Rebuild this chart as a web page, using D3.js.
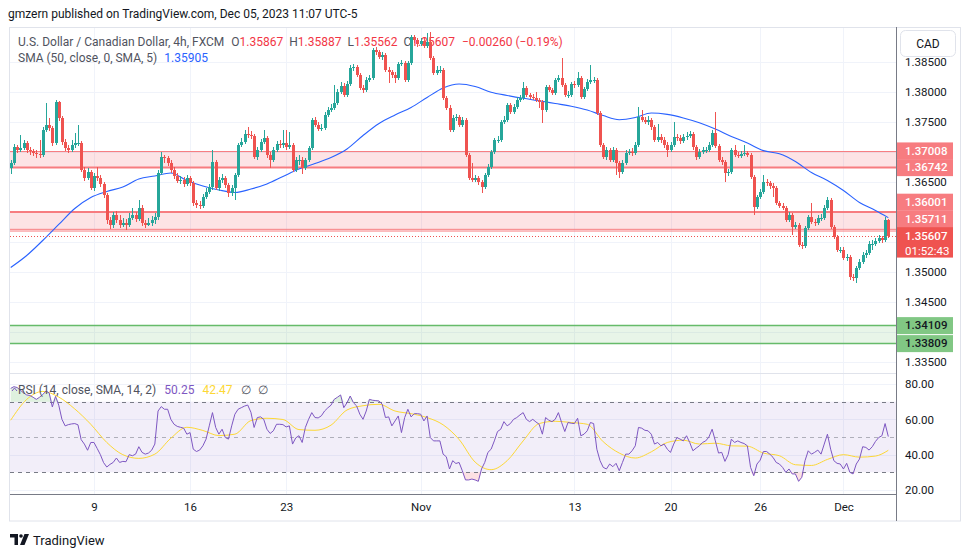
<!DOCTYPE html>
<html>
<head>
<meta charset="utf-8">
<script src="https://cdn.jsdelivr.net/npm/d3@7/dist/d3.min.js"></script>
<style>
html,body{margin:0;padding:0;background:#ffffff;}
svg{display:block;font-family:Roboto,"Noto Sans",Arial,sans-serif;}
</style>
</head>
<body>
<svg id="chart" width="970" height="557"></svg>
<script>
// ---------------- DATA (USDCAD, 4h, FXCM) ----------------
const firstOpen = 1.3673;
const closes = [
1.3682,1.3708,1.3703,1.3707,1.3715,1.3703,1.3702,1.3698,1.3697,1.3695,
1.3737,1.3745,1.3740,1.3715,1.3783,1.3757,1.3717,1.3707,1.3703,1.3712,
1.3715,1.3715,1.3670,1.3657,1.3667,1.3640,1.3660,1.3657,1.3647,1.3628,
1.3587,1.3578,1.3595,1.3587,1.3578,1.3582,1.3578,1.3590,1.3595,1.3588,
1.3607,1.3582,1.3578,1.3582,1.3587,1.3592,1.3665,1.3692,1.3690,1.3682,
1.3670,1.3660,1.3652,1.3653,1.3647,1.3657,1.3648,1.3615,1.3612,1.3610,
1.3625,1.3633,1.3642,1.3683,1.3640,1.3653,1.3657,1.3645,1.3632,1.3640,
1.3662,1.3712,1.3717,1.3730,1.3728,1.3727,1.3692,1.3703,1.3717,1.3723,
1.3695,1.3687,1.3703,1.3713,1.3712,1.3715,1.3708,1.3712,1.3670,1.3687,
1.3687,1.3673,1.3687,1.3707,1.3753,1.3745,1.3738,1.3740,1.3762,1.3770,
1.3773,1.3782,1.3800,1.3810,1.3795,1.3813,1.3840,1.3842,1.3828,1.3807,
1.3803,1.3820,1.3823,1.3870,1.3867,1.3858,1.3862,1.3837,1.3833,1.3828,
1.3823,1.3847,1.3848,1.3820,1.3848,1.3892,1.3887,1.3880,1.3885,1.3877,
1.3883,1.3857,1.3832,1.3837,1.3837,1.3790,1.3773,1.3737,1.3757,1.3758,
1.3745,1.3753,1.3695,1.3657,1.3653,1.3657,1.3650,1.3642,1.3662,1.3675,
1.3700,1.3720,1.3720,1.3750,1.3753,1.3778,1.3767,1.3775,1.3787,1.3790,
1.3807,1.3795,1.3792,1.3790,1.3787,1.3783,1.3770,1.3808,1.3803,1.3798,
1.3820,1.3823,1.3812,1.3795,1.3795,1.3813,1.3812,1.3823,1.3792,1.3805,
1.3817,1.3820,1.3820,1.3765,1.3712,1.3692,1.3703,1.3687,1.3703,1.3682,
1.3667,1.3682,1.3698,1.3700,1.3698,1.3712,1.3758,1.3753,1.3750,1.3753,
1.3742,1.3720,1.3725,1.3720,1.3712,1.3703,1.3712,1.3725,1.3723,1.3718,
1.3725,1.3727,1.3730,1.3708,1.3692,1.3700,1.3703,1.3703,1.3712,1.3732,
1.3710,1.3687,1.3683,1.3665,1.3667,1.3703,1.3695,1.3693,1.3697,1.3698,
1.3695,1.3658,1.3608,1.3625,1.3633,1.3650,1.3648,1.3643,1.3640,1.3615,
1.3610,1.3607,1.3587,1.3595,1.3575,1.3578,1.3545,1.3543,1.3573,1.3592,
1.3583,1.3582,1.3590,1.3590,1.3607,1.3620,1.3575,1.3558,1.3537,1.3537,
1.3523,1.3525,1.3492,1.3490,1.3507,1.3517,1.3528,1.3532,1.3547,1.3547,
1.3552,1.3557,1.3553,1.35867,1.35607];
const highs = [
1.3687,1.3713,1.3712,1.3728,1.3720,1.3718,1.3708,1.3705,1.3703,1.3720,
1.3742,1.3782,1.3757,1.3743,1.3787,1.3785,1.3760,1.3722,1.3712,1.3720,
1.3732,1.3745,1.3718,1.3675,1.3673,1.3670,1.3665,1.3675,1.3662,1.3650,
1.3632,1.3592,1.3600,1.3602,1.3595,1.3590,1.3588,1.3598,1.3607,1.3600,
1.3620,1.3612,1.3587,1.3590,1.3593,1.3598,1.3670,1.3700,1.3695,1.3693,
1.3687,1.3675,1.3665,1.3660,1.3658,1.3662,1.3660,1.3652,1.3620,1.3618,
1.3630,1.3640,1.3647,1.3703,1.3687,1.3658,1.3663,1.3660,1.3648,1.3645,
1.3665,1.3715,1.3723,1.3737,1.3742,1.3735,1.3730,1.3708,1.3722,1.3737,
1.3727,1.3700,1.3708,1.3718,1.3720,1.3737,1.3737,1.3733,1.3715,1.3692,
1.3695,1.3692,1.3690,1.3710,1.3757,1.3758,1.3750,1.3747,1.3767,1.3775,
1.3780,1.3812,1.3805,1.3817,1.3815,1.3818,1.3845,1.3847,1.3845,1.3832,
1.3812,1.3825,1.3828,1.3873,1.3875,1.3870,1.3867,1.3865,1.3842,1.3837,
1.3833,1.3850,1.3853,1.3852,1.3852,1.3895,1.3895,1.3890,1.3890,1.3890,
1.3898,1.3900,1.3860,1.3843,1.3843,1.3840,1.3793,1.3778,1.3762,1.3763,
1.3762,1.3758,1.3757,1.3698,1.3682,1.3662,1.3660,1.3653,1.3665,1.3680,
1.3703,1.3723,1.3727,1.3753,1.3760,1.3782,1.3782,1.3780,1.3792,1.3795,
1.3817,1.3810,1.3798,1.3797,1.3800,1.3790,1.3787,1.3812,1.3812,1.3807,
1.3823,1.3828,1.3857,1.3815,1.3802,1.3817,1.3818,1.3833,1.3827,1.3808,
1.3822,1.3845,1.3825,1.3823,1.3768,1.3715,1.3708,1.3707,1.3708,1.3707,
1.3685,1.3687,1.3703,1.3705,1.3707,1.3717,1.3775,1.3770,1.3758,1.3760,
1.3757,1.3745,1.3747,1.3730,1.3725,1.3717,1.3717,1.3750,1.3730,1.3728,
1.3730,1.3733,1.3735,1.3733,1.3712,1.3705,1.3708,1.3708,1.3717,1.3737,
1.3767,1.3713,1.3692,1.3687,1.3672,1.3707,1.3712,1.3700,1.3702,1.3712,
1.3702,1.3698,1.3662,1.3628,1.3638,1.3662,1.3655,1.3652,1.3648,1.3643,
1.3618,1.3615,1.3610,1.3600,1.3598,1.3583,1.3582,1.3550,1.3577,1.3595,
1.3615,1.3588,1.3595,1.3597,1.3612,1.3625,1.3623,1.3578,1.3562,1.3542,
1.3542,1.3530,1.3528,1.3497,1.3510,1.3522,1.3533,1.3537,1.3552,1.3553,
1.3557,1.3562,1.3560,1.3592,1.35887];
const lows = [
1.3663,1.3678,1.3698,1.3700,1.3703,1.3698,1.3695,1.3693,1.3690,1.3690,
1.3692,1.3733,1.3735,1.3710,1.3712,1.3752,1.3712,1.3702,1.3698,1.3700,
1.3707,1.3710,1.3667,1.3652,1.3653,1.3637,1.3635,1.3652,1.3642,1.3623,
1.3580,1.3572,1.3573,1.3582,1.3573,1.3575,1.3570,1.3575,1.3587,1.3583,
1.3585,1.3577,1.3573,1.3577,1.3577,1.3580,1.3587,1.3662,1.3682,1.3677,
1.3665,1.3655,1.3648,1.3647,1.3642,1.3643,1.3643,1.3610,1.3607,1.3605,
1.3607,1.3622,1.3630,1.3637,1.3637,1.3635,1.3648,1.3640,1.3625,1.3627,
1.3620,1.3658,1.3708,1.3713,1.3723,1.3722,1.3688,1.3687,1.3700,1.3713,
1.3690,1.3673,1.3683,1.3700,1.3707,1.3707,1.3703,1.3705,1.3667,1.3667,
1.3678,1.3663,1.3670,1.3683,1.3703,1.3742,1.3735,1.3735,1.3737,1.3758,
1.3767,1.3770,1.3778,1.3797,1.3792,1.3792,1.3810,1.3835,1.3825,1.3803,
1.3798,1.3800,1.3817,1.3820,1.3862,1.3855,1.3853,1.3833,1.3815,1.3823,
1.3815,1.3820,1.3843,1.3817,1.3817,1.3845,1.3882,1.3875,1.3877,1.3873,
1.3873,1.3853,1.3828,1.3828,1.3832,1.3787,1.3770,1.3733,1.3733,1.3752,
1.3742,1.3742,1.3692,1.3653,1.3650,1.3650,1.3645,1.3632,1.3638,1.3658,
1.3672,1.3697,1.3715,1.3717,1.3747,1.3750,1.3763,1.3763,1.3772,1.3783,
1.3787,1.3792,1.3788,1.3787,1.3783,1.3773,1.3748,1.3767,1.3800,1.3795,
1.3795,1.3817,1.3808,1.3792,1.3790,1.3792,1.3807,1.3808,1.3788,1.3788,
1.3802,1.3813,1.3815,1.3762,1.3708,1.3688,1.3687,1.3683,1.3683,1.3662,
1.3657,1.3663,1.3678,1.3695,1.3693,1.3695,1.3708,1.3750,1.3747,1.3745,
1.3737,1.3717,1.3717,1.3715,1.3707,1.3692,1.3700,1.3708,1.3718,1.3713,
1.3715,1.3720,1.3723,1.3703,1.3687,1.3688,1.3697,1.3698,1.3700,1.3708,
1.3707,1.3683,1.3678,1.3650,1.3660,1.3663,1.3692,1.3690,1.3690,1.3693,
1.3692,1.3655,1.3595,1.3605,1.3622,1.3630,1.3643,1.3638,1.3625,1.3612,
1.3607,1.3603,1.3583,1.3583,1.3562,1.3572,1.3542,1.3538,1.3540,1.3570,
1.3580,1.3577,1.3578,1.3585,1.3587,1.3603,1.3572,1.3555,1.3533,1.3532,
1.3520,1.3518,1.3487,1.3485,1.3482,1.3503,1.3513,1.3523,1.3528,1.3537,
1.3543,1.3548,1.3548,1.3550,1.35562];
// SMA(50) read every 5th bar (last entry = last bar)
const smaEvery5 = [
1.35075,1.35275,1.35525,1.35792,1.36058,1.36242,1.36342,1.36417,1.3655,1.366,
1.3665,1.36525,1.36433,1.36367,1.36325,1.36383,1.36467,1.36592,1.36717,1.36808,
1.36908,1.3705,1.37275,1.37475,1.37617,1.37742,1.37908,1.38067,1.38133,1.38092,
1.37997,1.37943,1.37895,1.37853,1.37808,1.37763,1.377,1.37607,1.37538,1.37575,
1.3765,1.37627,1.37568,1.37488,1.37383,1.3726,1.3715,1.37023,1.3697,1.36842,
1.36658,1.36525,1.36358,1.36158,1.36025,1.35905];
// RSI(14), one value per bar
const rsi = [
77.5,78.5,78.0,76.5,75.0,73.8,73.5,72.5,71.3,72.5,
74.0,76.0,75.0,67.0,73.0,68.0,60.0,56.3,57.0,57.4,
57.6,56.9,48.5,46.0,42.5,46.9,46.9,43.5,40.0,35.5,
33.0,34.5,35.6,38.1,35.6,36.2,36.0,40.0,39.4,40.3,
44.5,41.3,40.3,40.9,42.5,46.0,64.7,67.2,65.7,65.7,
60.0,57.2,56.0,55.5,55.0,51.6,52.5,43.1,41.8,42.6,
45.0,48.8,56.3,63.8,55.4,51.6,54.4,49.7,48.8,56.3,
62.9,65.7,66.6,67.5,68.1,64.0,55.4,61.0,61.4,60.0,
54.4,52.0,53.5,57.2,57.2,57.0,55.7,56.3,46.0,49.5,
50.7,46.9,55.4,60.0,63.8,61.0,60.8,62.0,64.7,66.5,
68.0,71.3,72.5,73.8,66.6,69.4,73.2,69.4,67.6,62.9,
60.0,64.7,71.3,70.8,70.6,70.4,68.5,61.0,61.4,56.3,
59.1,61.9,52.5,61.0,65.7,61.4,63.2,63.2,62.9,59.1,
61.9,49.7,47.8,47.8,47.8,40.3,38.8,31.9,36.6,35.0,
35.6,30.9,25.7,25.7,26.2,25.7,24.9,31.9,35.6,41.3,
43.1,47.8,53.1,54.4,58.7,56.3,57.6,60.0,61.0,62.5,
63.8,60.0,58.7,60.0,58.5,57.2,51.6,61.0,59.5,58.7,
60.0,63.8,58.2,53.1,58.2,57.8,57.6,60.6,50.7,51.6,
53.5,58.2,57.6,43.1,36.6,32.8,31.9,34.7,33.2,35.1,
30.9,35.6,40.3,40.3,42.2,45.0,55.4,55.0,53.8,53.5,
51.6,46.0,46.9,45.0,46.0,43.1,41.3,46.0,49.7,48.8,
47.8,50.7,46.9,42.2,43.7,45.0,46.9,47.8,50.0,54.4,
47.8,40.9,41.3,36.2,40.0,48.8,46.9,47.8,46.9,46.3,
45.0,32.8,28.1,34.7,36.9,41.8,41.8,40.3,38.5,35.6,
34.7,32.8,30.0,31.9,29.1,29.1,24.9,27.2,36.6,42.2,
40.3,41.3,42.6,40.3,46.0,51.6,43.1,36.6,35.1,34.7,
31.9,35.1,30.0,29.1,34.7,37.5,44.5,44.1,42.6,44.5,
47.5,49.7,50.7,57.6,50.25];
// RSI-based MA (SMA 14) read every 5th bar (last entry = last bar)
const rsiMaEvery5 = [
59.5,71.3,75.8,72.6,65.9,57.2,46.9,40.0,37.9,40.3,
49.3,55.5,53.7,50.8,51.6,59.3,60.6,59.9,54.2,53.8,
56.7,65.3,67.7,68.5,64.7,63.2,61.0,56.9,48.6,35.8,
31.5,36.6,47.8,57.6,58.9,58.2,57.2,47.3,40.9,38.1,
41.6,46.9,48.2,46.0,46.5,45.0,44.8,40.9,39.4,34.3,
33.9,37.3,40.0,38.6,39.2,42.47];

const priceTicks = [1.385,1.380,1.375,1.370,1.365,1.360,1.355,1.350,1.345,1.340,1.335];
const rsiTicks = [80,60,40,20];
const rsiLevels = [70,50,30];
const resistanceZones = [[1.37008,1.36742],[1.36001,1.35711]];
const supportZones = [[1.34109,1.33809]];
const resistanceLines = [[1.37008,1],[1.36742,2],[1.36001,2],[1.35711,1],[1.35683,1]];
const supportLines = [[1.34109,1.5],[1.33809,1.5]];
const resistanceLabels = [1.37008,1.36742,1.36001,1.35711];
const supportLabels = [1.34109,1.33809];
const timeTicks = [["2023-10-09","9"],["2023-10-16","16"],["2023-10-23","23"],["2023-11-01","Nov"],
                   ["2023-11-13","13"],["2023-11-20","20"],["2023-11-26","26"],["2023-12-01","Dec"]];
const barTimer = "01:52:43";
const title = "U.S. Dollar / Canadian Dollar, 4h, FXCM";
const publishLine = "gmzern published on TradingView.com, Dec 05, 2023 11:07 UTC-5";

// ---------------- LAYOUT ----------------
const svg = d3.select('#chart');
const n = closes.length;
const L = 10, R = 896, PT = 27, PB = 373, RB = 494, FB = 521;
const UP = '#26a69a', DOWN = '#ef5350';
const RES = '#f77c80', SUP = '#66bb6a';

// bar times (UTC-5 wall clock, FX session Sun 17:00 -> Fri 17:00)
const barTimes = [];
for (let t = Date.UTC(2023, 9, 2, 17); barTimes.length < n; t += 4 * 3600 * 1000) {
  const d = new Date(t), wd = d.getUTCDay(), h = d.getUTCHours();
  const closed = (wd === 5 && h >= 17) || wd === 6 || (wd === 0 && h < 17);
  if (!closed) barTimes.push(t);
}
const dayKey = t => new Date(t).toISOString().slice(0, 10);
const ticks = timeTicks.map(([d, label]) => ({ i: barTimes.findIndex(t => dayKey(t) === d), label }));

const x = d3.scaleLinear().domain([0, n - 1]).range([10.7, 888.3]);
const yP = d3.scaleLinear().domain([1.335, 1.385]).range([362, 62]);
const yR = d3.scaleLinear().domain([20, 80]).range([490, 384]);
const px = v => Math.round(v) + 0.5;

const defs = svg.append('defs');
defs.append('clipPath').attr('id', 'clipP').append('rect').attr('x', L).attr('y', PT).attr('width', R - L).attr('height', PB - PT);
defs.append('clipPath').attr('id', 'clipR').append('rect').attr('x', L).attr('y', PB).attr('width', R - L).attr('height', RB - PB);

svg.append('rect').attr('width', 970).attr('height', 557).attr('fill', '#fff');

// grid
const grid = svg.append('g');
grid.selectAll('line.hp').data(priceTicks).join('line')
  .attr('x1', L).attr('x2', R).attr('y1', d => px(yP(d))).attr('y2', d => px(yP(d)))
  .attr('stroke', '#f0f3fa');
grid.selectAll('line.hr').data(rsiTicks).join('line')
  .attr('x1', L).attr('x2', R).attr('y1', d => px(yR(d))).attr('y2', d => px(yR(d)))
  .attr('stroke', '#f0f3fa');
grid.selectAll('line.v').data(ticks).join('line')
  .attr('x1', d => px(x(d.i))).attr('x2', d => px(x(d.i))).attr('y1', PT).attr('y2', RB)
  .attr('stroke', '#f0f3fa');

// price pane
const gp = svg.append('g').attr('clip-path', 'url(#clipP)');
gp.selectAll('rect.rz').data(resistanceZones).join('rect')
  .attr('x', L).attr('width', R - L).attr('y', d => yP(d[0])).attr('height', d => yP(d[1]) - yP(d[0]))
  .attr('fill', 'rgba(242,54,69,0.14)');
gp.selectAll('rect.sz').data(supportZones).join('rect')
  .attr('x', L).attr('width', R - L).attr('y', d => yP(d[0])).attr('height', d => yP(d[1]) - yP(d[0]))
  .attr('fill', 'rgba(76,175,80,0.13)');
gp.selectAll('line.rl').data(resistanceLines).join('line')
  .attr('x1', L).attr('x2', R).attr('y1', d => yP(d[0])).attr('y2', d => yP(d[0]))
  .attr('stroke', RES).attr('stroke-width', d => d[1]);
gp.selectAll('line.sl').data(supportLines).join('line')
  .attr('x1', L).attr('x2', R).attr('y1', d => yP(d[0])).attr('y2', d => yP(d[0]))
  .attr('stroke', SUP).attr('stroke-width', d => d[1]);

// legend texts drawn beneath candles (as in the reference)
const fmt5 = d3.format('.5f');
const last0o = closes[n - 2];
svg.append('text').attr('x', 8).attr('y', 18).attr('font-size', 12).attr('fill', '#131722').text(publishLine);

// SMA
const smaPts = smaEvery5.map((v, k) => [k === smaEvery5.length - 1 ? n - 1 : k * 5, v]);
gp.append('path').datum(smaPts)
  .attr('d', d3.line().x(d => x(d[0])).y(d => yP(d[1])).curve(d3.curveMonotoneX))
  .attr('fill', 'none').attr('stroke', '#2962ff').attr('stroke-width', 1.1);

// candles
const bars = closes.map((c, i) => {
  const o = i === 0 ? firstOpen : closes[i - 1];
  return { i, o, c, h: Math.max(highs[i], o, c), l: Math.min(lows[i], o, c) };
});
const last = bars[n - 1];

// header legend (under the candles)
const chg = last.c - last.o, pct = chg / last.o * 100;
const t1 = gp.append('text').attr('x', 18).attr('y', 46).attr('font-size', 12).attr('fill', '#50535e');
t1.append('tspan').text(title);
[['O', last.o], ['H', last.h], ['L', last.l], ['C', last.c]].forEach(([k, v], j) => {
  t1.append('tspan').attr('dx', j === 0 ? 7 : 6).attr('fill', '#50535e').text(k);
  t1.append('tspan').attr('fill', '#f23645').text(fmt5(v));
});
t1.append('tspan').attr('dx', 7).attr('fill', '#f23645')
  .text(`${chg < 0 ? '\u2212' : '+'}${Math.abs(chg).toFixed(5)} (${pct < 0 ? '\u2212' : '+'}${Math.abs(pct).toFixed(2)}%)`);

const t2 = gp.append('text').attr('x', 18).attr('y', 62).attr('font-size', 12).attr('fill', '#50535e');
t2.append('tspan').text('SMA (50, close, 0, SMA, 5)');
t2.append('tspan').attr('dx', 7).attr('fill', '#2962ff').text(fmt5(smaEvery5[smaEvery5.length - 1]));

const cg = gp.append('g');
cg.selectAll('line.w').data(bars).join('line')
  .attr('x1', d => px(x(d.i))).attr('x2', d => px(x(d.i)))
  .attr('y1', d => Math.round(yP(d.h))).attr('y2', d => Math.round(yP(d.l)))
  .attr('stroke', d => d.c >= d.o ? UP : DOWN).attr('stroke-width', 1);
cg.selectAll('rect.b').data(bars).join('rect')
  .attr('x', d => Math.round(x(d.i)) - 1).attr('width', 3)
  .attr('y', d => Math.round(yP(Math.max(d.o, d.c))))
  .attr('height', d => Math.max(1, Math.round(yP(Math.min(d.o, d.c))) - Math.round(yP(Math.max(d.o, d.c)))))
  .attr('fill', d => d.c >= d.o ? UP : DOWN);

// current price dotted line
gp.append('line').attr('x1', L).attr('x2', R).attr('y1', px(yP(last.c))).attr('y2', px(yP(last.c)))
  .attr('stroke', DOWN).attr('stroke-dasharray', '1,2');

// RSI pane
const gr = svg.append('g').attr('clip-path', 'url(#clipR)');
gr.append('rect').attr('x', L).attr('width', R - L).attr('y', yR(70)).attr('height', yR(30) - yR(70))
  .attr('fill', 'rgba(126,87,194,0.1)');
gr.append('path').datum(rsi)
  .attr('d', d3.area().x((d, i) => x(i)).y0(yR(70)).y1(d => yR(Math.max(d, 70))))
  .attr('fill', 'rgba(76,175,80,0.18)');
gr.append('path').datum(rsi)
  .attr('d', d3.area().x((d, i) => x(i)).y0(yR(30)).y1(d => yR(Math.min(d, 30))))
  .attr('fill', 'rgba(242,54,69,0.15)');
gr.selectAll('line.lv').data(rsiLevels).join('line')
  .attr('x1', L).attr('x2', R).attr('y1', d => px(yR(d))).attr('y2', d => px(yR(d)))
  .attr('stroke', d => d === 50 ? 'rgba(120,123,134,0.55)' : '#787b86').attr('stroke-dasharray', '4,4');
const maPts = rsiMaEvery5.map((v, k) => [k === rsiMaEvery5.length - 1 ? n - 1 : k * 5, v]);
gr.append('path').datum(maPts)
  .attr('d', d3.line().x(d => x(d[0])).y(d => yR(d[1])).curve(d3.curveMonotoneX))
  .attr('fill', 'none').attr('stroke', '#fdd835').attr('stroke-width', 1);
gr.append('path').datum(rsi)
  .attr('d', d3.line().x((d, i) => x(i)).y(d => yR(d)))
  .attr('fill', 'none').attr('stroke', '#7e57c2').attr('stroke-width', 1);

const t3 = svg.append('text').attr('x', 18).attr('y', 394).attr('font-size', 12).attr('fill', '#50535e');
t3.append('tspan').text('RSI (14, close, SMA, 14, 2)');
t3.append('tspan').attr('dx', 8).attr('fill', '#7e57c2').text(rsi[n - 1].toFixed(2));
t3.append('tspan').attr('dx', 8).attr('fill', '#fdd835').text(rsiMaEvery5[rsiMaEvery5.length - 1].toFixed(2));
t3.append('tspan').attr('dx', 8).attr('fill', '#50535e').text('\u2205');
t3.append('tspan').attr('dx', 7).attr('fill', '#50535e').text('\u2205');
svg.append('path').attr('d', 'M12,391 L14.5,388 L17,391').attr('fill', 'none').attr('stroke', '#7e57c2').attr('stroke-width', 1);

// frame & separators
svg.append('line').attr('x1', L).attr('x2', R).attr('y1', PB + 0.5).attr('y2', PB + 0.5).attr('stroke', '#e0e3eb');
svg.append('rect').attr('x', 9.5).attr('y', PT + 0.5).attr('width', 951).attr('height', FB - PT - 0.5)
  .attr('fill', 'none').attr('stroke', '#e0e3eb');
svg.append('line').attr('x1', L).attr('x2', R).attr('y1', RB + 0.5).attr('y2', RB + 0.5).attr('stroke', '#787b86');
svg.append('line').attr('x1', R + 0.5).attr('x2', R + 0.5).attr('y1', PT).attr('y2', FB).attr('stroke', '#787b86');

// price labels on the axis (with collision push-up above the live price label)
const LH = 16.7;
const curTop = yP(last.c) - 8.5, curH = 30.5;
let boundary = curTop;
const resPlaced = resistanceLabels.slice().sort((a, b) => a - b).map(p => {
  let top = yP(p) - LH / 2;
  if (p > last.c && top + LH > boundary) top = boundary - LH;
  boundary = top;
  return { p, top };
});
const supPlaced = supportLabels.map(p => ({ p, top: yP(p) - LH / 2 }));
const occupied = [...resPlaced.map(d => [d.top, d.top + LH]), ...supPlaced.map(d => [d.top, d.top + LH]), [curTop, curTop + curH]];
const freeTicks = priceTicks.filter(p => {
  const yy = yP(p);
  return !occupied.some(([a, b]) => yy + 5 > a && yy - 5 < b);
});

// axes
const fontAxis = 11.5;
const styleAxis = g => {
  g.select('.domain').remove();
  g.selectAll('line').remove();
  g.selectAll('text').attr('fill', '#131722').attr('font-size', fontAxis).attr('font-family', 'Roboto, "Noto Sans", sans-serif');
};
svg.append('g').attr('transform', `translate(${R},0)`)
  .call(d3.axisRight(yP).tickValues(freeTicks).tickSize(0).tickPadding(9).tickFormat(d3.format('.5f')))
  .call(styleAxis);
svg.append('g').attr('transform', `translate(${R},0)`)
  .call(d3.axisRight(yR).tickValues(rsiTicks).tickSize(0).tickPadding(9).tickFormat(d3.format('.2f')))
  .call(styleAxis);
svg.append('g').attr('transform', `translate(0,${RB})`)
  .call(d3.axisBottom(x).tickValues(ticks.map(d => d.i)).tickSize(0).tickPadding(9)
    .tickFormat((d, k) => ticks[k].label))
  .call(styleAxis);

const lab = svg.append('g');
const drawLabel = (d, fill, tcol) => {
  lab.append('rect').attr('x', R + 1).attr('y', d.top).attr('width', 56).attr('height', LH + 0.3).attr('fill', fill);
  lab.append('text').attr('x', R + 9).attr('y', d.top + LH / 2 + 4).attr('font-size', fontAxis)
    .attr('fill', tcol).attr('font-weight', 500).text(fmt5(d.p));
};
resPlaced.forEach(d => drawLabel(d, RES, '#ffffff'));
supPlaced.forEach(d => drawLabel(d, '#81c784', '#131722'));
lab.append('rect').attr('x', R + 1).attr('y', curTop).attr('width', 56).attr('height', curH).attr('fill', DOWN);
lab.append('text').attr('x', R + 9).attr('y', curTop + 12.5).attr('font-size', fontAxis).attr('font-weight', 500)
  .attr('fill', '#fff').text(fmt5(last.c));
lab.append('text').attr('x', R + 9).attr('y', curTop + 27.5).attr('font-size', fontAxis)
  .attr('fill', '#fff').text(barTimer);

// CAD button
svg.append('rect').attr('x', 900.5).attr('y', 30.5).attr('width', 55).attr('height', 26).attr('rx', 5)
  .attr('fill', '#fff').attr('stroke', '#e0e3eb');
svg.append('text').attr('x', 928).attr('y', 48).attr('text-anchor', 'middle').attr('font-size', 12)
  .attr('fill', '#131722').text('CAD');

// TradingView logo
const logo = svg.append('g').attr('fill', '#131722');
logo.append('path').attr('d', 'M10,534 H18 V545 H14.5 V537.5 H10 Z');
logo.append('circle').attr('cx', 21).attr('cy', 536).attr('r', 1.8);
logo.append('path').attr('d', 'M24.5,534 H29 L24.5,545 H20 Z');
svg.append('text').attr('x', 33).attr('y', 545).attr('font-size', 13).attr('fill', '#131722').text('TradingView');
</script>
</body>
</html>
